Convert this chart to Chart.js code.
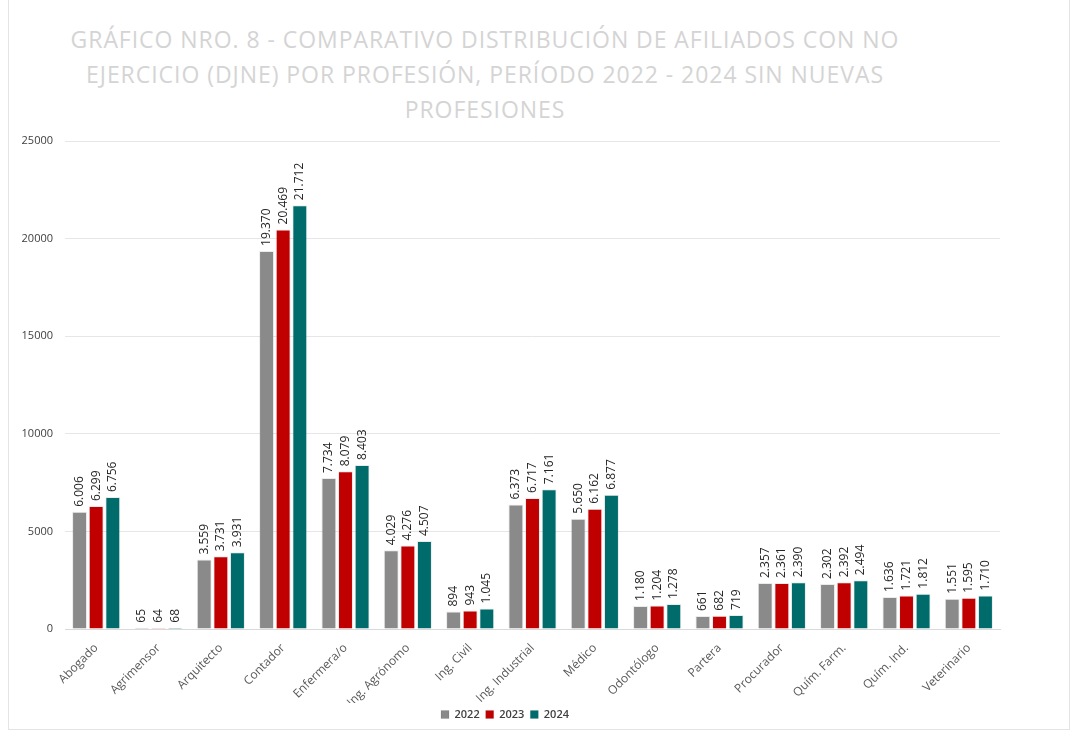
<!DOCTYPE html>
<html>
<head>
<meta charset="utf-8">
<script src="https://cdn.jsdelivr.net/npm/chart.js@4.4.0/dist/chart.umd.min.js"></script>
<style>
  html, body { margin: 0; padding: 0; background: #fff; }
  #wrap { position: relative; width: 1075px; height: 731px; }
  #frame { position: absolute; left: 8px; top: 0; width: 1062px; height: 730px; border: 1px solid #e4e4e4; border-top: none; box-sizing: border-box; }
  #title { position: absolute; left: 20px; width: 930px; top: 22px; text-align: center;
    font-family: "Open Sans", sans-serif; font-size: 23px; line-height: 35px; color: #d4d4d4; letter-spacing: 0.95px; }
  canvas { position: absolute; left: 0; top: 0; }
</style>
</head>
<body>
<div id="wrap">
  <div id="frame"></div>
  <div id="title">GRÁFICO NRO. 8 - COMPARATIVO DISTRIBUCIÓN DE AFILIADOS CON NO<br>EJERCICIO (DJNE) POR PROFESIÓN, PERÍODO 2022 - 2024 SIN NUEVAS<br>PROFESIONES</div>
  <canvas id="chart" width="1075" height="731"></canvas>
</div>
<script>
// --- Data ---
const profesiones = ['Abogado', 'Agrimensor', 'Arquitecto', 'Contador', 'Enfermera/o', 'Ing. Agrónomo', 'Ing. Civil',
  'Ing. Industrial', 'Médico', 'Odontólogo', 'Partera', 'Procurador', 'Quím. Farm.', 'Quím. Ind.', 'Veterinario'];
const años = ['2022', '2023', '2024'];
const valores2022 = [6006, 65, 3559, 19370, 7734, 4029, 894, 6373, 5650, 1180, 661, 2357, 2302, 1636, 1551];
const valores2023 = [6299, 64, 3731, 20469, 8079, 4276, 943, 6717, 6162, 1204, 682, 2361, 2392, 1721, 1595];
const valores2024 = [6756, 68, 3931, 21712, 8403, 4507, 1045, 7161, 6877, 1278, 719, 2390, 2494, 1812, 1710];
const yTicks = [0, 5000, 10000, 15000, 20000, 25000];

const colores = ['#8a8a8a', '#c00000', '#006b6b'];

// thousands with dot separator
const fmt = v => String(v).replace(/\B(?=(\d{3})+(?!\d))/g, '.');

// draws the rotated value labels above each bar
const valueLabels = {
  id: 'valueLabels',
  afterDatasetsDraw(chart) {
    const ctx = chart.ctx;
    ctx.save();
    ctx.font = '12px "Open Sans", sans-serif';
    ctx.fillStyle = '#262626';
    ctx.textAlign = 'left';
    ctx.textBaseline = 'middle';
    chart.data.datasets.forEach((ds, i) => {
      chart.getDatasetMeta(i).data.forEach((bar, j) => {
        ctx.save();
        ctx.translate(bar.x, bar.y - 5);
        ctx.rotate(-Math.PI / 2);
        ctx.fillText(fmt(ds.data[j]), 0, 0);
        ctx.restore();
      });
    });
    ctx.restore();
  }
};

new Chart(document.getElementById('chart'), {
  type: 'bar',
  data: {
    labels: profesiones,
    datasets: [valores2022, valores2023, valores2024].map((d, i) => ({
      label: años[i],
      data: d,
      backgroundColor: colores[i],
      borderColor: 'rgba(0,0,0,0.08)',
      borderWidth: 1,
      barPercentage: 0.9,
      categoryPercentage: 0.8
    }))
  },
  options: {
    responsive: false,
    animation: false,
    layout: { padding: { top: 141, left: 10, right: 75, bottom: 1 } },
    plugins: {
      legend: {
        position: 'bottom',
        labels: {
          boxWidth: 8, boxHeight: 8, padding: 6,
          color: '#404040',
          font: { family: '"Open Sans", sans-serif', size: 11, weight: '600' }
        }
      },
      title: { display: false },
      tooltip: { enabled: false }
    },
    scales: {
      y: {
        min: 0, max: 25000,
        afterBuildTicks: s => { s.ticks = yTicks.map(v => ({ value: v })); },
        afterFit: s => { s.width = 55; },
        grid: { color: '#e6e6e6', drawTicks: false },
        border: { display: false },
        ticks: { padding: 12, color: '#404040', callback: v => String(v),
          font: { family: '"Open Sans", sans-serif', size: 11 } }
      },
      x: {
        grid: { display: false },
        border: { color: '#d9d9d9' },
        afterFit: s => { s.height = 74; },
        ticks: { minRotation: 45, maxRotation: 45, color: '#595959', padding: 4,
          font: { family: '"Open Sans", sans-serif', size: 12 } }
      }
    }
  },
  plugins: [valueLabels]
});
</script>
</body>
</html>
